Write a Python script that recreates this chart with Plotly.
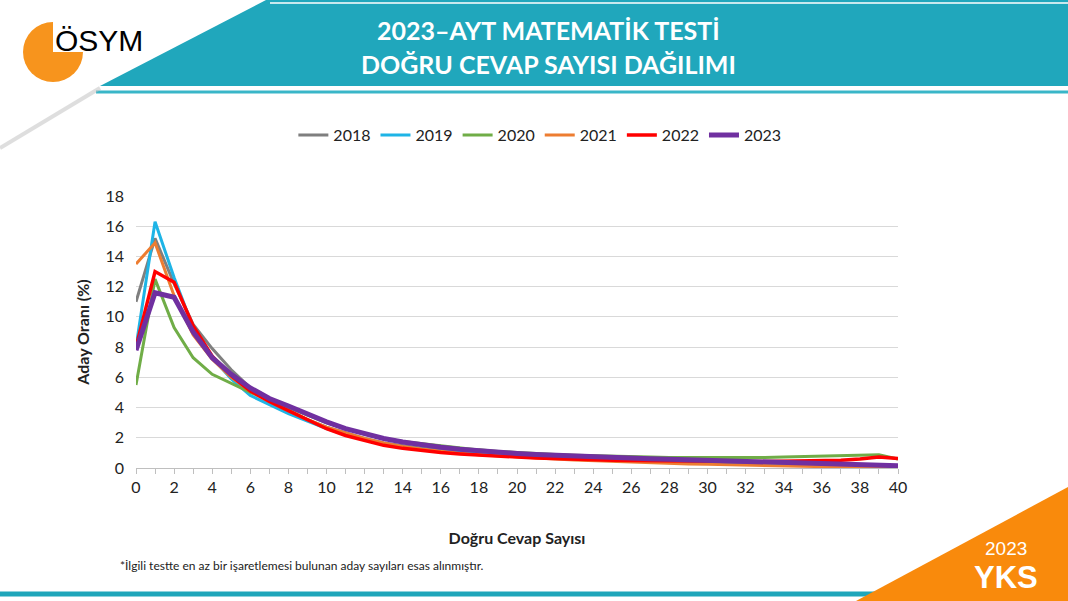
import plotly.graph_objects as go

W, H = 1068, 601
L, R, T, B = 136, 898, 196, 468  # plot area in pixels

# data
dogru = list(range(41))
y2018 = [11.0, 15.2, 12.2, 9.5, 7.9, 6.5, 5.3, 4.5, 3.8, 3.2, 2.7, 2.3, 1.95, 1.65, 1.45, 1.3, 1.17, 1.07, 0.98, 0.9,
         0.84, 0.79, 0.74, 0.7, 0.66, 0.62, 0.59, 0.56, 0.53, 0.5, 0.47, 0.44, 0.41, 0.38, 0.35, 0.32, 0.29, 0.26, 0.22, 0.17, 0.1]
y2019 = [8.0, 16.3, 12.6, 9.3, 7.3, 5.9, 4.8, 4.2, 3.6, 3.1, 2.6, 2.2, 1.9, 1.6, 1.4, 1.25, 1.12, 1.02, 0.93, 0.86,
         0.8, 0.74, 0.69, 0.64, 0.6, 0.56, 0.52, 0.49, 0.46, 0.43, 0.4, 0.37, 0.34, 0.31, 0.28, 0.25, 0.22, 0.19, 0.16, 0.12, 0.07]
y2020 = [5.5, 12.5, 9.3, 7.3, 6.2, 5.6, 5.0, 4.5, 4.0, 3.5, 3.0, 2.6, 2.25, 1.95, 1.75, 1.6, 1.45, 1.32, 1.2, 1.1,
         1.02, 0.95, 0.89, 0.84, 0.8, 0.77, 0.74, 0.72, 0.7, 0.69, 0.68, 0.68, 0.69, 0.7, 0.72, 0.75, 0.8, 0.85, 0.88, 0.87, 0.6]
y2021 = [13.5, 14.9, 11.4, 8.8, 7.2, 6.0, 5.1, 4.4, 3.8, 3.2, 2.7, 2.3, 1.95, 1.65, 1.42, 1.25, 1.1, 0.98, 0.88, 0.8,
         0.72, 0.65, 0.59, 0.53, 0.48, 0.43, 0.39, 0.35, 0.31, 0.27, 0.24, 0.21, 0.18, 0.15, 0.13, 0.11, 0.09, 0.08, 0.07, 0.06, 0.05]
y2022 = [8.0, 13.0, 12.3, 9.4, 7.4, 6.1, 5.1, 4.4, 3.8, 3.2, 2.6, 2.15, 1.8, 1.5, 1.3, 1.15, 1.02, 0.93, 0.85, 0.78,
         0.72, 0.67, 0.62, 0.58, 0.55, 0.52, 0.5, 0.48, 0.46, 0.45, 0.44, 0.43, 0.43, 0.43, 0.44, 0.45, 0.47, 0.52, 0.6, 0.72, 0.62]
y2023 = [7.8, 11.6, 11.3, 9.0, 7.3, 6.2, 5.3, 4.6, 4.1, 3.55, 3.05, 2.6, 2.25, 1.95, 1.72, 1.52, 1.37, 1.24, 1.13, 1.04,
         0.96, 0.89, 0.83, 0.78, 0.73, 0.69, 0.65, 0.61, 0.58, 0.55, 0.52, 0.49, 0.46, 0.44, 0.41, 0.38, 0.35, 0.31, 0.27, 0.22, 0.15]

series = [
    ("2018", y2018, "#7F7F7F", 3),
    ("2019", y2019, "#1EB4E6", 3),
    ("2020", y2020, "#70AD47", 3),
    ("2021", y2021, "#ED7D31", 3),
    ("2022", y2022, "#FF0000", 3.5),
    ("2023", y2023, "#7030A0", 5),
]

FONT = "Lato"


def px(x):
    return (x - L) / (R - L)


def py(y):
    return (B - y) / (B - T)


def poly(pts):
    return "M " + " L ".join(f"{px(a):.5f},{py(b):.5f}" for a, b in pts) + " Z"


fig = go.Figure()
for name, vals, col, w in series:
    fig.add_trace(go.Scatter(x=dogru, y=vals, name=name, mode="lines",
                             line=dict(color=col, width=w)))

shapes = [
    # header band
    dict(type="path", path=poly([(266, 0), (W, 0), (W, 86), (100, 86)]),
         fillcolor="#20A7BC", line_width=0, layer="below"),
    dict(type="line", x0=px(270), y0=py(3), x1=px(W), y1=py(3), line=dict(color="white", width=1.5)),
    dict(type="line", x0=px(96), y0=py(92), x1=px(W), y1=py(92), line=dict(color="#39B6C8", width=3)),
    # shadow of the diagonal
    dict(type="line", x0=px(100), y0=py(88), x1=px(0), y1=py(148), line=dict(color="#BFBFBF", width=4), opacity=0.5),
    # logo
    dict(type="circle", x0=px(23), y0=py(22), x1=px(83), y1=py(82),
         fillcolor="#F7941D", line_width=0),
    dict(type="rect", x0=px(53), y0=py(52), x1=px(86), y1=py(20),
         fillcolor="white", line_width=0),
    # bottom line and orange corner
    dict(type="line", x0=px(0), y0=py(594), x1=px(880), y1=py(594), line=dict(color="#1FA6BA", width=5)),
    dict(type="path", path=poly([(856, H), (W, 487), (W, H)]),
         fillcolor="#F98A0C", line_width=0),
]

annotations = [
    dict(text="ÖSYM", x=px(53), y=py(40), xanchor="left", yanchor="middle",
         font=dict(family="Liberation Sans", size=30, color="black")),
    dict(text="<b>2023–AYT MATEMATİK TESTİ</b>", x=px(548), y=py(30), xanchor="center", yanchor="middle",
         font=dict(family=FONT, size=25, color="white")),
    dict(text="<b>DOĞRU CEVAP SAYISI DAĞILIMI</b>", x=px(548), y=py(64), xanchor="center", yanchor="middle",
         font=dict(family=FONT, size=25, color="white")),
    dict(text="*İlgili testte en az bir işaretlemesi bulunan aday sayıları esas alınmıştır.",
         x=px(118), y=py(565), xanchor="left", yanchor="middle",
         font=dict(family=FONT, size=12, color="#222222")),
    dict(text="2023", x=px(1006), y=py(548), xanchor="center", yanchor="middle",
         font=dict(family="Liberation Sans", size=19, color="white")),
    dict(text="<b>YKS</b>", x=px(1006), y=py(577), xanchor="center", yanchor="middle",
         font=dict(family="Liberation Sans", size=31, color="white")),
]

for a in annotations:
    a.update(xref="paper", yref="paper", showarrow=False)
for s in shapes:
    s.update(xref="paper", yref="paper")

fig.update_layout(
    width=W, height=H,
    margin=dict(l=L, r=W - R, t=T, b=H - B),
    paper_bgcolor="white", plot_bgcolor="white",
    font=dict(family=FONT, size=16, color="#222222"),
    shapes=shapes, annotations=annotations,
    legend=dict(orientation="h", x=0.53, xanchor="center", y=py(135), yanchor="middle",
                font=dict(size=16, color="#222222"), itemwidth=30, tracegroupgap=0),
    xaxis=dict(range=[0, 40], dtick=2, showgrid=False, showline=True, linecolor="#BFBFBF",
               ticks="outside", ticklen=5, tickcolor="#BFBFBF", zeroline=False,
               minor=dict(dtick=1, ticks="outside", ticklen=5, tickcolor="#BFBFBF"),
               title=dict(text="<b>Doğru Cevap Sayısı</b>", font=dict(size=16), standoff=37)),
    yaxis=dict(range=[0, 18], dtick=2, gridcolor="#D9D9D9", gridwidth=1, zeroline=False,
               ticks="", ticklabelstandoff=11,
               title=dict(text="<b>Aday Oranı (%)</b>", font=dict(size=16), standoff=11)),
)

fig.write_html("out.html", config={"displayModeBar": False},
               post_script="document.body.style.margin='0';")
